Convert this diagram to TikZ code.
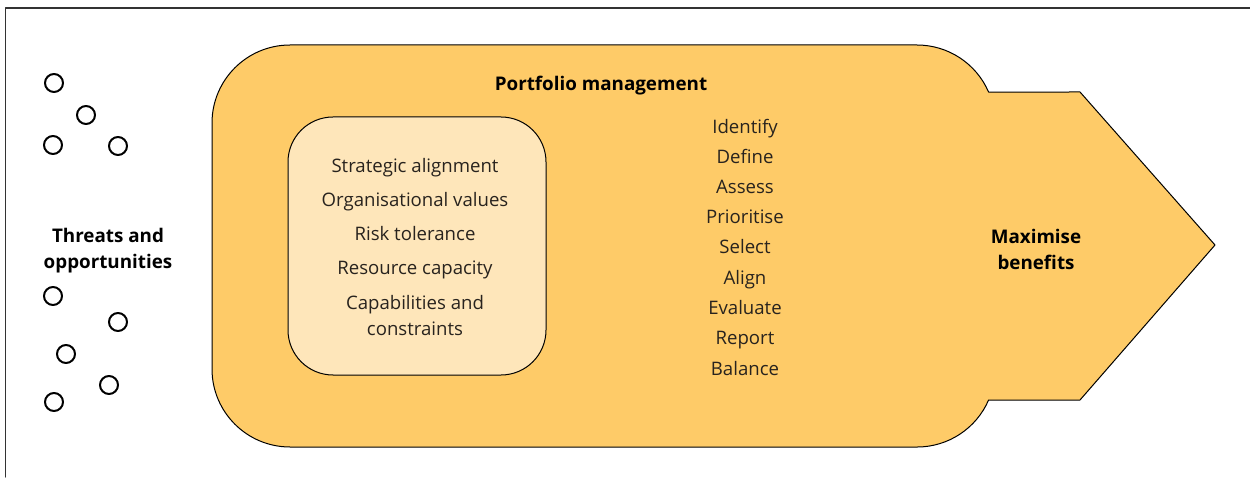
\documentclass[tikz,border=0pt]{standalone}
\usepackage{fontspec}
\setmainfont{Open Sans}
\definecolor{pmorange}{RGB}{254,203,104}
\definecolor{pmcream}{RGB}{254,230,186}
\definecolor{pmtext}{RGB}{40,35,30}

\begin{document}
\begin{tikzpicture}[line cap=round,line join=round,x=1pt,y=1pt,
	item/.style={text=pmtext,font=\fontsize{18.6}{26}\selectfont,inner sep=0pt,anchor=base,align=center},
	head/.style={text=black,font=\fontsize{18.8}{26}\selectfont\bfseries,inner sep=0pt,align=center},
	token/.style={line width=2pt}]
		\useasboundingbox (0,0) rectangle (1250,477);
		\draw [line width=1.3pt,color=black!80] (5.5,0) -- (5.5,469) -- (1250,469);
		% portfolio arrow
		\draw [line width=1pt,fill=pmorange] (212,108) -- (212,354) arc (180:90:78) -- (917,432) arc (90:23.4:78) -- (1080,385) -- (1215,232) -- (1080,77) -- (988.6,77) arc (-23.4:-90:78) -- (290,30) arc (270:180:78) -- cycle;
		\node [draw,line width=1pt,fill=pmcream,rounded corners=45pt,minimum width=258pt,minimum height=258pt] (criteria) at (417,231) {};
		\node [head,anchor=base] (pm) at (601,386.5) {Portfolio management};
		\node [head] (threats) at (108,226.5) {Threats and\\opportunities};
		\node [head] (benefits) at (1036,228) {Maximise\\benefits};
		% criteria
		\node [item] (strategic) at (415,304) {Strategic alignment};
		\node [item] (values) at (415,270) {Organisational values};
		\node [item] (risk) at (415,236) {Risk tolerance};
		\node [item] (capacity) at (415,202) {Resource capacity};
		\node [item,anchor=center] (capabilities) at (415,161.5) {Capabilities and\\constraints};
		% activities
		\node [item] (identify) at (745,343) {Identify};
		\node [item] (define) at (745,313) {Define};
		\node [item] (assess) at (745,283) {Assess};
		\node [item] (prioritise) at (745,253) {Prioritise};
		\node [item] (select) at (745,223) {Select};
		\node [item] (align) at (745,193) {Align};
		\node [item] (evaluate) at (745,163) {Evaluate};
		\node [item] (report) at (745,132) {Report};
		\node [item] (balance) at (745,102) {Balance};
		% threats and opportunities
		\draw [token] (54,394) circle (9);
		\draw [token] (86,362) circle (9);
		\draw [token] (53,332) circle (9);
		\draw [token] (118,331) circle (9);
		\draw [token] (53,181) circle (9);
		\draw [token] (118,155) circle (9);
		\draw [token] (66,123) circle (9);
		\draw [token] (109,92) circle (9);
		\draw [token] (54,75) circle (9);
	\end{tikzpicture}
\end{document}
